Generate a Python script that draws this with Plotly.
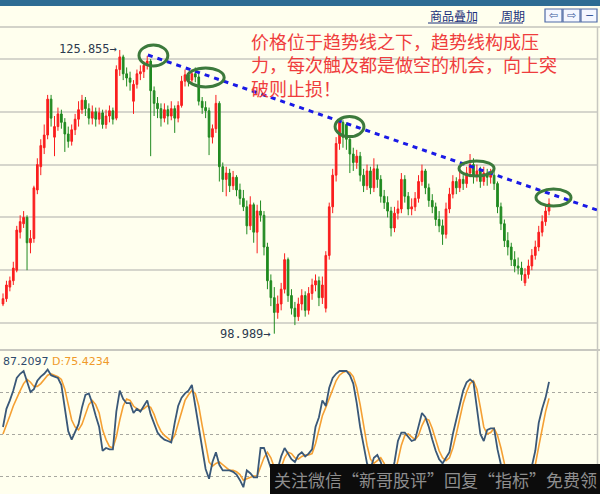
import plotly.graph_objects as go

# ---------------- data ----------------
opens = [101.8,102.3,103.4,104.0,105.0,108.6,109.4,110.0,107.6,108.0,
         112.6,114.8,116.6,117.8,121.2,117.6,118.6,119.8,119.0,117.9,
         117.2,118.3,119.3,120.2,121.1,120.3,119.4,120.0,119.3,119.9,
         118.8,119.6,120.1,119.4,124.0,125.2,123.6,123.2,121.0,122.6,
         123.6,123.8,124.4,124.8,122.0,120.8,120.3,119.4,120.2,119.6,
         120.3,119.4,120.6,122.9,123.5,123.0,123.6,123.3,121.0,120.4,
         120.1,117.6,118.4,120.8,114.8,113.6,114.2,113.0,113.8,112.6,
         111.8,111.0,109.2,111.2,108.6,110.6,110.2,107.2,104.0,102.4,
         101.0,101.8,103.2,106.0,102.6,101.4,100.6,101.8,102.6,101.2,
         102.8,103.6,104.0,102.4,101.4,106.4,111.0,114.0,117.0,119.0,
         118.8,117.4,116.0,115.2,115.8,114.0,113.0,114.4,112.8,114.6,
         113.6,112.0,111.4,110.6,109.0,110.4,110.8,113.6,112.0,110.8,
         111.0,111.8,113.4,114.4,112.8,111.6,111.0,109.8,109.2,108.4,
         110.8,112.2,113.4,112.8,113.6,113.2,114.2,115.0,114.0,114.4,
         113.4,114.2,113.8,114.0,113.2,111.0,109.4,107.8,107.2,106.0,
         105.4,105.2,103.8,104.6,105.4,106.4,107.2,108.6,109.6,110.6]
highs = [102.8,104.0,104.4,105.8,109.2,110.2,110.6,110.2,108.8,113.0,
         115.6,117.4,118.8,121.6,121.6,119.6,120.4,120.2,119.4,118.6,
         118.8,119.8,121.0,121.6,121.4,120.8,120.6,120.4,120.4,120.2,
         120.2,120.6,120.4,124.4,125.855,125.4,124.2,123.8,123.0,124.0,
         124.4,124.8,125.3,125.0,122.4,121.4,120.8,120.8,120.6,121.0,
         120.6,121.0,123.4,124.0,123.8,124.0,124.2,123.6,121.4,121.0,
         120.4,118.8,121.6,121.0,115.2,114.8,114.6,114.4,114.0,113.2,
         112.6,111.6,112.0,111.4,111.2,111.6,110.6,107.6,104.6,103.4,
         102.6,103.8,106.6,106.2,103.2,102.0,102.4,103.2,103.0,103.4,
         104.2,104.6,104.4,104.4,106.8,111.4,114.6,117.6,119.4,119.2,
         119.0,117.8,116.6,116.4,116.2,114.6,115.0,114.8,115.6,115.0,
         114.0,112.6,112.0,111.0,111.0,111.6,114.2,114.0,112.4,111.8,
         112.4,114.0,115.0,114.6,113.2,112.2,111.4,110.6,109.8,111.4,
         112.8,114.0,113.8,114.4,114.0,114.8,116.0,115.6,115.0,114.8,
         114.8,114.6,114.6,114.4,113.4,111.4,109.8,108.6,107.6,106.8,
         106.2,105.8,105.2,106.0,107.0,107.8,109.2,110.2,111.2,111.8]
lows = [101.6,102.0,103.0,103.6,104.8,108.0,109.0,105.0,106.6,107.6,
        112.2,114.0,116.0,117.4,118.6,115.8,118.2,118.4,116.2,116.6,
        116.8,117.8,118.6,119.8,119.6,118.8,118.8,118.6,118.8,118.4,
        118.4,119.0,118.8,119.2,123.4,123.0,122.4,122.0,119.8,122.2,
        123.0,123.2,124.0,115.8,119.6,119.4,118.6,119.0,118.8,119.2,
        118.0,119.0,120.4,122.4,122.4,122.6,122.8,120.6,119.8,119.4,
        115.9,117.0,118.0,113.4,112.4,112.0,112.4,112.6,112.0,111.2,
        110.6,108.4,108.8,107.6,106.6,109.6,106.4,103.2,101.6,98.989,
        100.4,101.2,102.8,102.0,100.8,99.8,100.2,101.2,100.6,100.8,
        102.2,103.0,101.6,101.8,101.0,106.0,110.4,113.4,116.4,116.6,
        116.4,114.2,114.4,114.6,113.4,112.4,112.6,112.2,112.4,112.8,
        111.4,110.8,110.0,108.2,108.6,109.8,110.4,111.4,110.2,110.2,
        110.6,111.4,113.0,112.2,111.0,110.4,109.2,108.6,107.4,108.0,
        110.4,111.8,112.2,112.4,112.6,112.8,113.8,113.2,113.4,112.8,
        113.0,113.0,113.2,112.6,110.4,108.8,107.2,106.4,105.4,104.8,
        104.6,104.0,103.5,104.2,105.0,106.0,106.8,108.2,109.2,110.2]
closes = [102.3,103.6,104.0,105.2,108.8,109.6,110.0,107.6,108.0,112.8,
          115.0,116.8,117.8,121.2,119.4,118.6,119.8,119.0,117.9,117.2,
          118.3,119.3,120.2,121.1,120.3,119.4,120.0,119.3,119.9,118.8,
          119.6,120.1,119.3,124.0,125.2,123.6,123.2,122.8,122.6,123.6,
          123.8,124.4,124.8,122.0,120.8,120.3,119.4,120.2,119.6,120.3,
          119.4,120.6,122.9,123.5,123.0,123.6,123.3,121.0,120.4,120.1,
          117.6,118.4,120.8,114.8,113.6,114.2,113.0,113.8,112.6,111.8,
          111.0,109.2,111.2,108.6,110.6,110.2,107.2,104.0,102.4,101.0,
          101.8,103.2,106.0,102.6,101.4,100.6,101.8,102.6,101.2,102.8,
          103.6,104.0,102.4,103.6,106.4,111.0,114.0,117.0,119.0,117.6,
          117.4,116.0,115.2,115.8,114.0,113.0,114.4,112.8,114.6,113.6,
          112.0,111.4,110.6,109.0,110.4,110.8,113.6,112.0,110.8,111.0,
          111.8,113.4,114.4,112.8,111.6,111.0,109.8,109.2,108.4,110.8,
          112.2,113.4,112.8,113.6,113.2,114.2,115.0,114.0,114.4,113.4,
          114.2,113.8,114.0,113.2,111.0,109.4,107.8,107.2,106.0,105.4,
          105.2,104.6,104.6,105.4,106.4,107.2,108.6,109.6,110.6,111.3]
k_vals = [55,68,74,81,90,93,95,87,80,82,88,91,93,96,92,91,90,85,70,52,
          46,52,57,69,78,79,72,63,55,38,40,39,39,66,81,75,72,72,65,68,
          66,70,74,64,57,51,48,46,45,44,58,70,76,79,81,85,70,55,37,25,
          18,30,37,28,24,24,24,23,21,17,12,24,22,19,19,40,40,33,26,18,
          25,34,40,36,32,30,35,37,34,36,39,55,62,74,70,83,90,93,95,95,
          95,92,86,72,55,42,29,25,33,35,30,22,15,18,30,45,51,51,48,45,
          46,56,65,62,55,46,38,32,29,33,37,50,61,72,81,87,89,87,70,50,
          45,53,54,54,39,28,20,15,12,10,8,10,12,20,27,38,58,68,76,87.2097]
d_vals = [50,56,63,70,76,81,86,89,87,84,84,86,89,92,93,92,91,89,82,71,
          60,55,53,57,64,71,74,71,65,53,46,41,40,48,60,70,75,74,70,68,
          67,68,70,69,64,57,52,49,47,45,49,57,66,74,78,81,79,70,56,42,
          30,27,29,30,28,26,24,24,23,21,17,18,19,20,20,27,33,37,33,26,
          23,26,33,37,36,33,32,34,35,35,36,43,52,63,69,75,82,88,92,94,
          95,94,91,83,71,56,42,32,29,31,33,29,22,18,21,31,42,49,50,48,
          46,49,56,61,60,54,46,38,33,31,33,40,50,61,72,80,86,88,82,69,
          55,50,51,54,49,40,29,21,16,12,10,9,10,14,20,28,41,55,66,75.4234]
bars = list(range(len(closes)))

# annotation anchors (touch points of the trend line) in bar index / price units
touch_idx = [43.8, 59.0, 100.9, 137.9, 160.3]
touch_price = [125.33, 123.25, 118.6, 114.63, 111.88]
touch_rx = [4.2, 5.4, 4.2, 5.1, 5.1]
touch_ry = [0.99, 0.9, 0.95, 0.71, 0.8]
trend_x = [42.2, 173.0]
trend_y = [125.38, 110.70]

note = "价格位于趋势线之下，趋势线构成压<br>力，每次触及都是做空的机会，向上突<br>破则止损！"
water = "关注微信“新哥股评”回复“指标”免费领"

W, H = 600, 494
def px(x): return x / W
def py(y): return 1 - y / H

BG = "#ffffee"
RED = "#fa1e1e"
GREEN = "#208a20"

fig = go.Figure()
fig.add_trace(go.Candlestick(
    x=bars, open=opens, high=highs, low=lows, close=closes,
    increasing=dict(line=dict(color=RED, width=1), fillcolor=RED),
    decreasing=dict(line=dict(color=GREEN, width=1), fillcolor=GREEN),
    whiskerwidth=0, xaxis="x", yaxis="y", showlegend=False, hoverinfo="skip"))
fig.add_trace(go.Scatter(x=bars, y=d_vals, mode="lines",
                         line=dict(color="#f5a033", width=1.6),
                         xaxis="x2", yaxis="y2", showlegend=False, hoverinfo="skip"))
fig.add_trace(go.Scatter(x=bars, y=k_vals, mode="lines",
                         line=dict(color="#3a5878", width=1.8),
                         xaxis="x2", yaxis="y2", showlegend=False, hoverinfo="skip"))

xr = [-0.874, 172.97]
fig.update_layout(
    width=W, height=H, margin=dict(l=0, r=0, t=0, b=0),
    paper_bgcolor=BG, plot_bgcolor=BG, showlegend=False,
    xaxis=dict(domain=[0, 597 / W], range=xr, anchor="y", showticklabels=False,
               showgrid=False, zeroline=False, rangeslider=dict(visible=False), fixedrange=True),
    xaxis2=dict(domain=[0, 597 / W], range=xr, anchor="y2", showticklabels=False,
                showgrid=False, zeroline=False, fixedrange=True),
    yaxis=dict(domain=[py(349), py(28)], range=[97.538, 127.936], showticklabels=False,
               tick0=100, dtick=5, showgrid=True, gridcolor="#d6d6cc", gridwidth=1.5,
               zeroline=False, fixedrange=True),
    yaxis2=dict(domain=[0, py(351)], range=[7.14, 109.29], showticklabels=False,
                tickvals=[20, 50, 80], showgrid=True, gridcolor="#a8a8a0", gridwidth=1,
                griddash="dot", zeroline=False, fixedrange=True),
)

shapes = []
# top blue band and toolbar separator
shapes.append(dict(type="rect", xref="paper", yref="paper", x0=0, x1=1, y0=py(6), y1=1,
                   fillcolor="#2d6c93", line=dict(width=0)))
shapes.append(dict(type="line", xref="paper", yref="paper", x0=0, x1=1, y0=py(27), y1=py(27),
                   line=dict(color="#c4c4bc", width=1.5)))
# panel separator
shapes.append(dict(type="line", xref="paper", yref="paper", x0=0, x1=1, y0=py(350), y1=py(350),
                   line=dict(color="#c8c8c0", width=2)))
# right border
shapes.append(dict(type="line", xref="paper", yref="paper", x0=px(597.5), x1=px(597.5),
                   y0=0, y1=py(27), line=dict(color="#c8c8c0", width=1.5)))
# trend line
shapes.append(dict(type="line", xref="x", yref="y", x0=trend_x[0], x1=trend_x[1],
                   y0=trend_y[0], y1=trend_y[1],
                   line=dict(color="#1a1ae6", width=3, dash="5px,5px")))
# ellipses
for cx, cy, rx, ry in zip(touch_idx, touch_price, touch_rx, touch_ry):
    shapes.append(dict(type="circle", xref="x", yref="y", x0=cx - rx, x1=cx + rx,
                       y0=cy - ry, y1=cy + ry, line=dict(color="#3c7a3c", width=3)))
# toolbar underline
shapes.append(dict(type="line", xref="paper", yref="paper", x0=px(428), x1=px(477),
                   y0=py(23), y1=py(23), line=dict(color="#1a2f7a", width=1)))
shapes.append(dict(type="line", xref="paper", yref="paper", x0=px(499), x1=px(523),
                   y0=py(23), y1=py(23), line=dict(color="#1a2f7a", width=1)))
# toolbar buttons
for x0, x1 in [(545, 562), (563, 580), (581, 597)]:
    shapes.append(dict(type="rect", xref="paper", yref="paper", x0=px(x0), x1=px(x1),
                       y0=py(22), y1=py(9), fillcolor="#f4f7ff",
                       line=dict(color="#4f6aa6", width=1.2)))
# watermark bar
shapes.append(dict(type="rect", xref="paper", yref="paper", x0=px(270), x1=1, y0=0, y1=py(464),
                   fillcolor="#0c0c0c", line=dict(width=0), layer="above"))
fig.update_layout(shapes=shapes)

ann = []
ann.append(dict(xref="paper", yref="paper", x=px(249), y=py(26), xanchor="left", yanchor="top",
                text=note, showarrow=False, align="left",
                font=dict(family="Noto Sans CJK SC", size=18, color="#ef3d3d")))
imax = max(bars, key=lambda i: highs[i])
imin = min(bars, key=lambda i: lows[i])
ann.append(dict(xref="x", yref="y", x=imax, y=highs[imax], xanchor="right", yanchor="middle",
                text=f"{highs[imax]:.3f}→", showarrow=False, xshift=-1, yshift=1,
                font=dict(family="DejaVu Sans Mono", size=12, color="#2c3a4e")))
ann.append(dict(xref="x", yref="y", x=imin, y=lows[imin], xanchor="right", yanchor="middle",
                text=f"{lows[imin]:.3f}→", showarrow=False, xshift=-1,
                font=dict(family="DejaVu Sans Mono", size=12, color="#2c3a4e")))
ann.append(dict(xref="paper", yref="paper", x=px(1), y=py(361), xanchor="left", yanchor="middle",
                text=f"<span style='color:#2e4a6c'>{k_vals[-1]:.4f}</span> "
                     f"<span style='color:#f09a2a'>D:{d_vals[-1]:.4f}</span>",
                showarrow=False, font=dict(family="DejaVu Sans", size=11)))
ann.append(dict(xref="paper", yref="paper", x=px(428), y=py(16), xanchor="left", yanchor="middle",
                text="商品叠加", showarrow=False,
                font=dict(family="Noto Sans CJK SC", size=12, color="#1a2f7a")))
ann.append(dict(xref="paper", yref="paper", x=px(499), y=py(16), xanchor="left", yanchor="middle",
                text="周期", showarrow=False,
                font=dict(family="Noto Sans CJK SC", size=12, color="#1a2f7a")))
for cx, t in [(553.5, "⇦"), (571.5, "⇨"), (589, "−")]:
    ann.append(dict(xref="paper", yref="paper", x=px(cx), y=py(15.5), xanchor="center",
                    yanchor="middle", text=t, showarrow=False,
                    font=dict(family="DejaVu Sans", size=11, color="#3a5a9a")))
ann.append(dict(xref="paper", yref="paper", x=px(272), y=py(479), xanchor="left", yanchor="middle",
                text=water, showarrow=False,
                font=dict(family="Noto Sans CJK SC", size=17, color="#8e8e8e")))
fig.update_layout(annotations=ann)

fig.write_html("out.html", config={"displayModeBar": False},
               post_script="document.body.style.margin='0';")
